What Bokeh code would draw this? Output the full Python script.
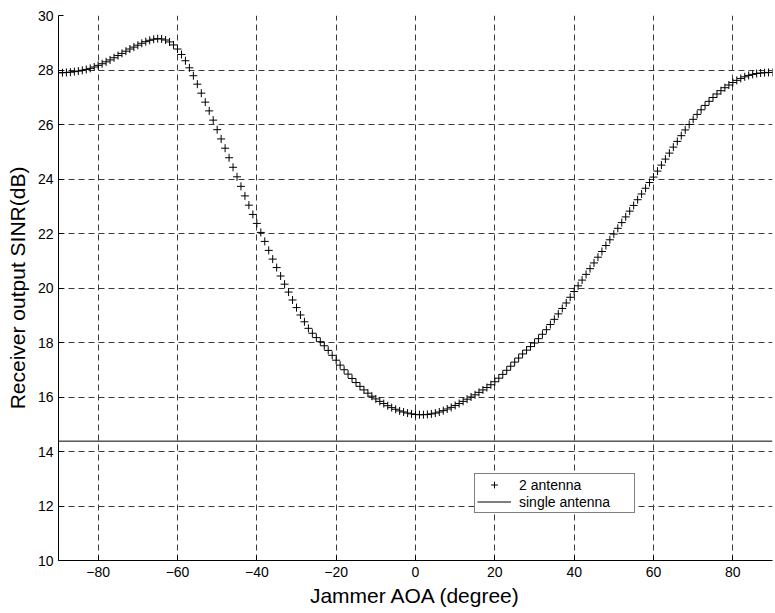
from bokeh.plotting import figure
from bokeh.models import Legend, LegendItem, FixedTicker
from bokeh.embed import file_html
from bokeh.resources import INLINE

# Jammer angle of arrival (degree), one point per degree
angles = list(range(-90, 91))

# Receiver output SINR (dB) with 2 antennas
sinr_2ant = [
    27.90, 27.90, 27.91, 27.92, 27.94, 27.96, 27.99, 28.02, 28.06, 28.11,   # -90..-81
    28.17, 28.23, 28.30, 28.37, 28.45, 28.53, 28.61, 28.69, 28.77, 28.84,   # -80..-71
    28.91, 28.98, 29.04, 29.09, 29.13, 29.15, 29.14, 29.10, 29.03, 28.92,   # -70..-61
    28.77, 28.57, 28.34, 28.08, 27.79, 27.48, 27.15, 26.82, 26.50, 26.16,   # -60..-51
    25.81, 25.47, 25.13, 24.78, 24.43, 24.08, 23.73, 23.38, 23.04, 22.70,   # -50..-41
    22.37, 22.04, 21.71, 21.38, 21.06, 20.75, 20.44, 20.14, 19.85, 19.56,   # -40..-31
    19.28, 19.01, 18.76, 18.52, 18.34, 18.18, 18.03, 17.88, 17.71, 17.53,   # -30..-21
    17.35, 17.17, 17.00, 16.84, 16.68, 16.53, 16.39, 16.26, 16.14, 16.03,   # -20..-11
    15.93, 15.84, 15.76, 15.68, 15.61, 15.55, 15.49, 15.45, 15.41, 15.38,   # -10..-1
    15.36,                                                                  # 0
    15.35, 15.35, 15.36, 15.38, 15.41, 15.45, 15.50, 15.56, 15.62, 15.69,   # 1..10
    15.76, 15.84, 15.92, 16.00, 16.08, 16.17, 16.26, 16.35, 16.45, 16.56,   # 11..20
    16.69, 16.83, 16.98, 17.13, 17.28, 17.43, 17.58, 17.72, 17.85, 17.98,   # 21..30
    18.14, 18.30, 18.47, 18.66, 18.85, 19.05, 19.25, 19.45, 19.66, 19.87,   # 31..40
    20.08, 20.29, 20.50, 20.71, 20.92, 21.13, 21.34, 21.56, 21.77, 21.98,   # 41..50
    22.19, 22.40, 22.61, 22.82, 23.03, 23.24, 23.45, 23.66, 23.87, 24.07,   # 51..60
    24.29, 24.51, 24.73, 24.95, 25.17, 25.38, 25.59, 25.80, 26.00, 26.19,   # 61..70
    26.37, 26.54, 26.70, 26.85, 26.99, 27.12, 27.24, 27.35, 27.45, 27.54,   # 71..80
    27.62, 27.69, 27.75, 27.80, 27.84, 27.87, 27.89, 27.90, 27.91, 27.91,   # 81..90
]

# Single antenna SINR (dB), constant
single_level = 14.38
single_x = [-90, 90]
single_y = [single_level, single_level]

x_ticks = [-80, -60, -40, -20, 0, 20, 40, 60, 80]
y_ticks = [10, 12, 14, 16, 18, 20, 22, 24, 26, 28, 30]

FONT = "Liberation Sans"

p = figure(width=775, height=613, x_range=(-90, 90), y_range=(10, 30),
           output_backend="svg", toolbar_location=None,
           min_border_left=58, min_border_right=3, min_border_top=15,
           min_border_bottom=53)
p.outline_line_color = None
p.background_fill_color = "white"
p.border_fill_color = "white"

p.xaxis.ticker = FixedTicker(ticks=x_ticks)
p.yaxis.ticker = FixedTicker(ticks=y_ticks)
p.xaxis.axis_label = "Jammer AOA (degree)"
p.yaxis.axis_label = "Receiver output SINR(dB)"

for ax in (p.xaxis, p.yaxis):
    ax.axis_line_color = "black"
    ax.axis_line_width = 1
    ax.major_tick_in = 5
    ax.major_tick_out = 0
    ax.minor_tick_line_color = None
    ax.major_tick_line_color = "black"
    ax.major_label_text_font = FONT
    ax.major_label_text_font_size = "14px"
    ax.major_label_text_color = "black"
    ax.axis_label_text_font = FONT
    ax.axis_label_text_font_size = "21px"
    ax.axis_label_text_font_style = "normal"
    ax.axis_label_text_color = "black"

p.xaxis.major_label_standoff = 6
p.xaxis.axis_label_standoff = 4
p.yaxis.major_label_standoff = 5
p.yaxis.axis_label_standoff = 6

for g in (p.xgrid, p.ygrid):
    g.grid_line_color = "#3a3a3a"
    g.grid_line_dash = "6 4"
    g.grid_line_width = 1

r_two = p.scatter(angles, sinr_2ant, marker="cross", size=8,
                  line_color="black", line_width=1)
r_one = p.line(single_x, single_y, line_color="black", line_width=1)

legend = Legend(items=[LegendItem(label="2 antenna", renderers=[r_two]),
                       LegendItem(label="single antenna", renderers=[r_one])],
                location=(416, 47))
legend.border_line_color = "black"
legend.border_line_width = 1
legend.background_fill_color = "white"
legend.background_fill_alpha = 1
legend.padding = 2
legend.spacing = 0
legend.margin = 0
legend.glyph_height = 17
legend.glyph_width = 34
legend.label_standoff = 8
legend.label_width = 113
legend.label_height = 17
legend.label_text_font = FONT
legend.label_text_font_size = "14px"
legend.label_text_color = "black"
p.add_layout(legend)

open("out.html", "w").write(file_html(p, INLINE))
